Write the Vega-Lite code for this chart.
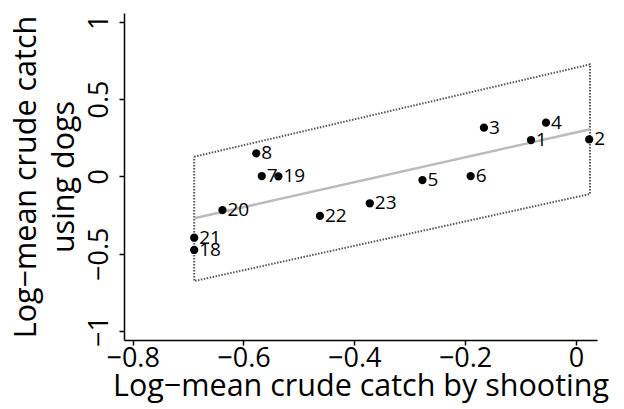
{
  "$schema": "https://vega.github.io/schema/vega-lite/v6.json",
  "autosize": {"type": "none"},
  "width": 473,
  "height": 327,
  "padding": {"left": 124, "top": 13, "right": 27, "bottom": 69},
  "background": "white",
  "config": {
    "view": {"stroke": null},
    "font": "Open Sans",
    "axis": {
      "grid": false,
      "domainColor": "#000",
      "domainWidth": 1.5,
      "tickColor": "#000",
      "tickWidth": 1.5,
      "tickSize": 5,
      "labelColor": "#000",
      "titleColor": "#000",
      "labelFont": "Open Sans",
      "titleFont": "Open Sans",
      "labelFontSize": 27,
      "titleFontSize": 30.5,
      "titleFontWeight": "normal"
    }
  },
  "datasets": {
    "pts": [
      {"id": "1", "x": -0.081, "y": 0.235},
      {"id": "2", "x": 0.024, "y": 0.239},
      {"id": "3", "x": -0.166, "y": 0.315},
      {"id": "4", "x": -0.054, "y": 0.347},
      {"id": "5", "x": -0.277, "y": -0.024},
      {"id": "6", "x": -0.19, "y": 0.002},
      {"id": "7", "x": -0.567, "y": 0.002},
      {"id": "8", "x": -0.577, "y": 0.149},
      {"id": "18", "x": -0.689, "y": -0.476},
      {"id": "19", "x": -0.537, "y": 0.0},
      {"id": "20", "x": -0.638, "y": -0.218},
      {"id": "21", "x": -0.689, "y": -0.397},
      {"id": "22", "x": -0.462, "y": -0.256},
      {"id": "23", "x": -0.372, "y": -0.174}
    ],
    "fit": [
      {"x": -0.689, "y": -0.271},
      {"x": 0.0255, "y": 0.304}
    ],
    "band": [
      {"ord": 1, "x": -0.689, "y": 0.127},
      {"ord": 2, "x": 0.0255, "y": 0.724},
      {"ord": 3, "x": 0.0255, "y": -0.114},
      {"ord": 4, "x": -0.689, "y": -0.677},
      {"ord": 5, "x": -0.689, "y": 0.127}
    ]
  },
  "encoding": {
    "x": {
      "field": "x", "type": "quantitative",
      "scale": {"domain": [-0.8157, 0.0381], "nice": false, "zero": false},
      "axis": {
        "title": "Log−mean crude catch by shooting",
        "values": [-0.8, -0.6, -0.4, -0.2, 0],
        "format": "~g",
        "labelPadding": 0,
        "titlePadding": 0,
        "labelFlush": false
      }
    },
    "y": {
      "field": "y", "type": "quantitative",
      "scale": {"domain": [-1.0582, 1.0563], "nice": false, "zero": false},
      "axis": {
        "title": ["Log−mean crude catch", "using dogs"],
        "values": [-1, -0.5, 0, 0.5, 1],
        "format": "~g",
        "labelAngle": 270,
        "labelAlign": "center",
        "labelBaseline": "bottom",
        "labelPadding": 6,
        "titlePadding": 6,
        "titleLineHeight": 38,
        "labelFlush": false
      }
    }
  },
  "layer": [
    {
      "data": {"name": "band"},
      "mark": {"type": "line", "color": "#555", "strokeWidth": 2, "strokeDash": [1.5, 1.5]},
      "encoding": {"order": {"field": "ord", "type": "quantitative"}}
    },
    {
      "data": {"name": "fit"},
      "mark": {"type": "line", "color": "#bbbbbb", "strokeWidth": 2.5},
      "encoding": {}
    },
    {
      "data": {"name": "pts"},
      "mark": {"type": "point", "filled": true, "color": "#000", "opacity": 1, "size": 68},
      "encoding": {}
    },
    {
      "data": {"name": "pts"},
      "mark": {"type": "text", "align": "left", "baseline": "middle", "dx": 5, "fontSize": 19, "font": "Open Sans", "color": "#000"},
      "encoding": {"text": {"field": "id"}}
    }
  ]
}
